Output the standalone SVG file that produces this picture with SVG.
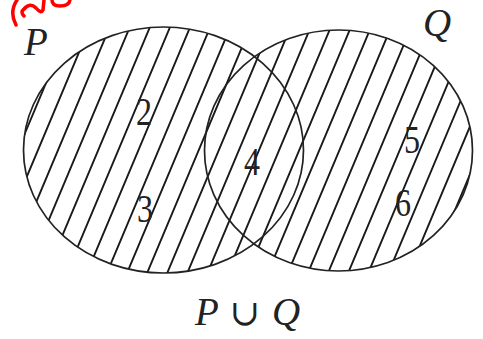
<svg xmlns="http://www.w3.org/2000/svg" width="483" height="339" viewBox="0 0 483 339">
  <style>
    .set { fill: none; stroke: #222; stroke-width: 1.7; }
    .hatch { fill: none; stroke: #1a1a1a; stroke-width: 1.9; }
    .lbl { font-family: "Liberation Serif", "DejaVu Serif", serif; font-style: italic; font-size: 39px; fill: #222; }
    .num { font-family: "Liberation Serif", "DejaVu Serif", serif; font-size: 40px; fill: #222; text-anchor: middle; }
    .op { font-family: "DejaVu Serif", "Liberation Serif", serif; font-size: 36px; fill: #222; text-anchor: middle; }
    .red { fill: none; stroke: #f00; stroke-width: 3.5; stroke-linecap: round; stroke-linejoin: round; }
  </style>
  <defs>
    <clipPath id="union">
      <ellipse cx="163.5" cy="150" rx="140" ry="123"/>
      <ellipse cx="338.5" cy="150.5" rx="134" ry="120.5"/>
    </clipPath>
  </defs>
  <rect width="483" height="339" fill="#fff"/>

  <g id="mark">
    <path class="red" d="M17,0 Q9,12 16,25"/>
    <path class="red" d="M24,16 Q20,12 24,9 Q30,2 36,8 Q41,14 43,10 L44,0"/>
    <path class="red" d="M52,0 Q52,6 60,6 Q69,6 70,0"/>
  </g>

  <g id="hatching" clip-path="url(#union)">
    <path class="hatch" d="M80.9,0L-61.5,339M101,0L-41.4,339M121.1,0L-21.3,339M141.2,0L-1.2,339M161.3,0L18.9,339M181.4,0L39,339M201.5,0L59.1,339M221.6,0L79.2,339M241.7,0L99.3,339M261.8,0L119.4,339M281.9,0L139.5,339M302,0L159.6,339M322.1,0L179.7,339M342.2,0L199.8,339M362.3,0L219.9,339M382.4,0L240,339M402.5,0L260.1,339M422.6,0L280.2,339M442.7,0L300.3,339M462.8,0L320.4,339M482.9,0L340.5,339M503,0L360.6,339M523.1,0L380.7,339M543.2,0L400.8,339"/>
  </g>

  <g id="P">
    <ellipse class="set" cx="163.5" cy="150" rx="140" ry="123"/>
    <text class="lbl" x="24" y="55">P</text>
  </g>
  <g id="Q">
    <ellipse class="set" cx="338.5" cy="150.5" rx="134" ry="120.5"/>
    <text class="lbl" x="423" y="36">Q</text>
  </g>

  <g id="elements">
    <text class="num" x="144" y="125" transform="translate(144 0) scale(0.8 1) translate(-144 0)">2</text>
    <text class="num" x="145" y="222" transform="translate(145 0) scale(0.8 1) translate(-145 0)">3</text>
    <text class="num" x="252" y="175" transform="translate(252 0) scale(0.8 1) translate(-252 0)">4</text>
    <text class="num" x="412" y="153" transform="translate(412 0) scale(0.8 1) translate(-412 0)">5</text>
    <text class="num" x="403" y="216" transform="translate(403 0) scale(0.8 1) translate(-403 0)">6</text>
  </g>

  <g id="caption">
    <text class="lbl" x="195" y="325">P</text>
    <text class="op" x="244.5" y="325">∪</text>
    <text class="lbl" x="272" y="325">Q</text>
  </g>
</svg>
